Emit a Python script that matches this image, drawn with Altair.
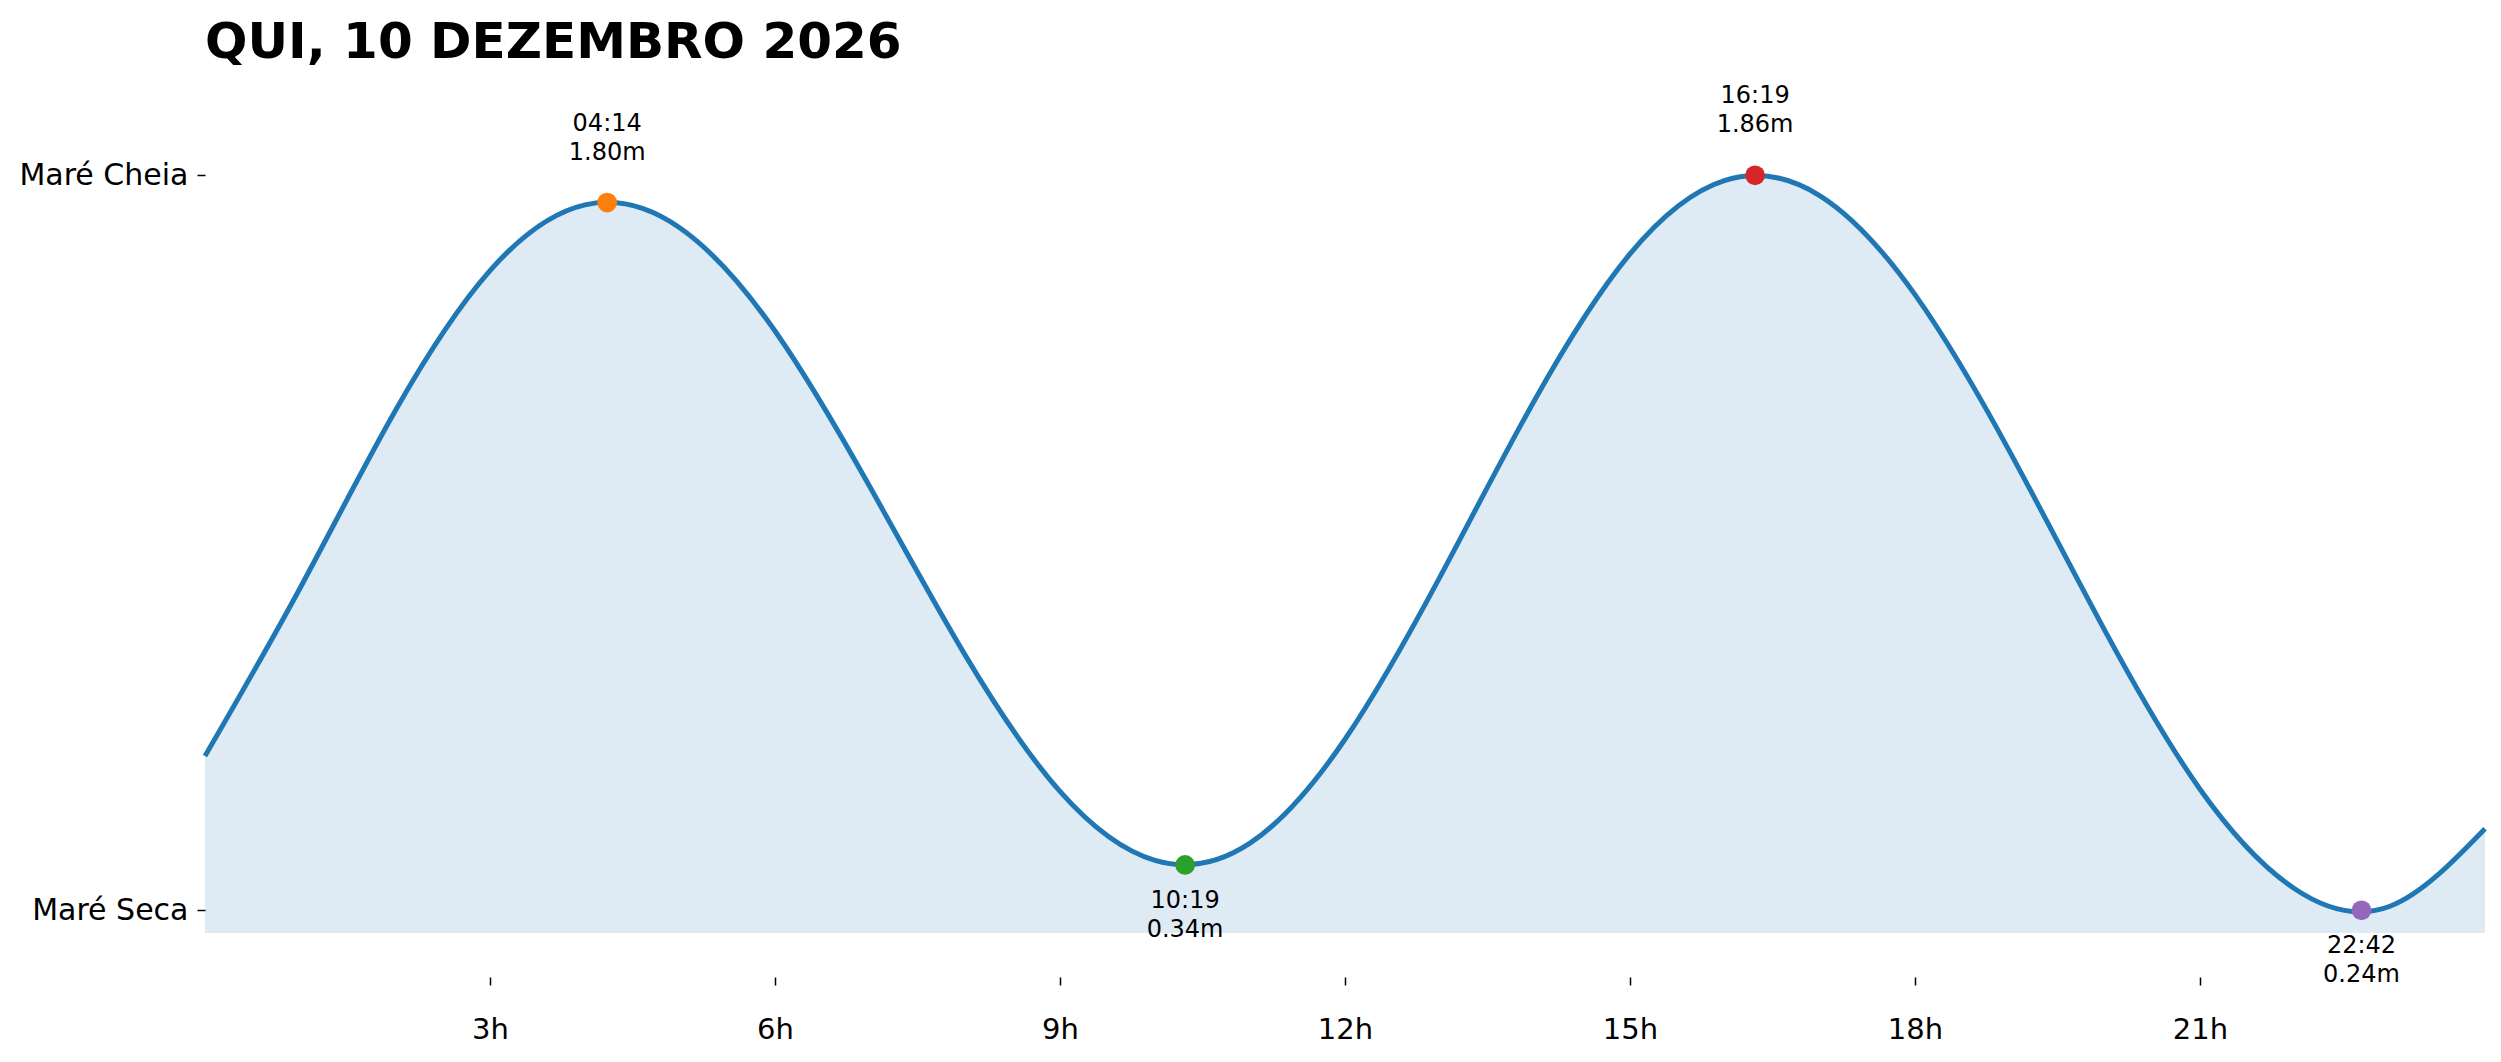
import altair as alt
import pandas as pd

# tide curve, one value per hour (m)
hours = list(range(25))
heights = [0.58, 0.95, 1.34, 1.65, 1.795, 1.744, 1.517, 1.173, 0.803, 0.502, 0.350,
           0.388, 0.617, 0.975, 1.366, 1.687, 1.849, 1.815, 1.597, 1.250, 0.856, 0.507,
           0.287, 0.249, 0.42]

# high / low tides
ext_times = ["04:14", "10:19", "16:19", "22:42"]
ext_heights = [1.80, 0.34, 1.86, 0.24]
ext_kind = ["high", "low", "high", "low"]
ext_colors = ["#ff7f0e", "#2ca02c", "#d62728", "#9467bd"]

title = "QUI, 10 DEZEMBRO 2026"
font = "DejaVu Sans"

curve = pd.DataFrame({"h": hours, "m": heights})
ext = pd.DataFrame({
    "time": ext_times,
    "m": ext_heights,
    "kind": ext_kind,
})
ext["h"] = [int(t[:2]) + int(t[3:]) / 60 for t in ext_times]
ext["label"] = [f"{t}\n{v:.2f}m" for t, v in zip(ext_times, ext_heights)]

x_scale = alt.Scale(domain=[0, 24], nice=False, zero=False)
y_scale = alt.Scale(domain=[0.19, 2.09], nice=False, zero=False)

x_axis = alt.Axis(values=[3, 6, 9, 12, 15, 18, 21], labelExpr="datum.value + 'h'",
                  domain=False, grid=False, tickSize=8, tickWidth=1.5, tickColor="black",
                  labelFontSize=29, labelColor="black", labelFont=font, labelPadding=30,
                  offset=44, title=None)
y_axis = alt.Axis(values=[0.24, 1.86],
                  labelExpr="datum.value > 1 ? 'Maré Cheia' : 'Maré Seca'",
                  domain=False, grid=False, tickSize=8, tickWidth=1.5, tickColor="black",
                  labelFontSize=30, labelColor="black", labelFont=font, labelPadding=9,
                  labelBaseline="middle", title=None)

base = alt.Chart(curve).encode(
    x=alt.X("h:Q", scale=x_scale, axis=x_axis),
    y=alt.Y("m:Q", scale=y_scale, axis=y_axis),
)

area = base.mark_area(interpolate="natural", color="#1f77b4", fillOpacity=0.15).encode(
    y2=alt.datum(0.19)
)
line = base.mark_line(interpolate="natural", color="#1f77b4", strokeWidth=5)

pts = alt.Chart(ext).mark_circle(size=390, opacity=1).encode(
    x=alt.X("h:Q", scale=x_scale),
    y=alt.Y("m:Q", scale=y_scale),
    color=alt.Color("time:N", scale=alt.Scale(domain=ext_times, range=ext_colors), legend=None),
)

txt_high = alt.Chart(ext).transform_filter("datum.kind == 'high'").mark_text(
    baseline="bottom", dy=-67, fontSize=24, font=font, lineBreak="\n", lineHeight=29,
    color="black"
).encode(x=alt.X("h:Q", scale=x_scale), y=alt.Y("m:Q", scale=y_scale), text="label:N")

txt_low = alt.Chart(ext).transform_filter("datum.kind == 'low'").mark_text(
    baseline="top", dy=24, fontSize=24, font=font, lineBreak="\n", lineHeight=29,
    color="black"
).encode(x=alt.X("h:Q", scale=x_scale), y=alt.Y("m:Q", scale=y_scale), text="label:N")

chart = (area + line + pts + txt_high + txt_low).properties(
    width=2280, height=862,
    autosize=alt.AutoSizeParams(type="none"),
    padding={"left": 197, "top": 63, "right": 8, "bottom": 118},
    title=alt.TitleParams(title, anchor="start", frame="group", fontSize=50,
                          fontWeight="bold", font=font, color="black",
                          baseline="bottom", offset=2, dy=49),
).configure_view(stroke=None)

chart.save("out.html", embed_options={"renderer": "svg", "actions": False})
